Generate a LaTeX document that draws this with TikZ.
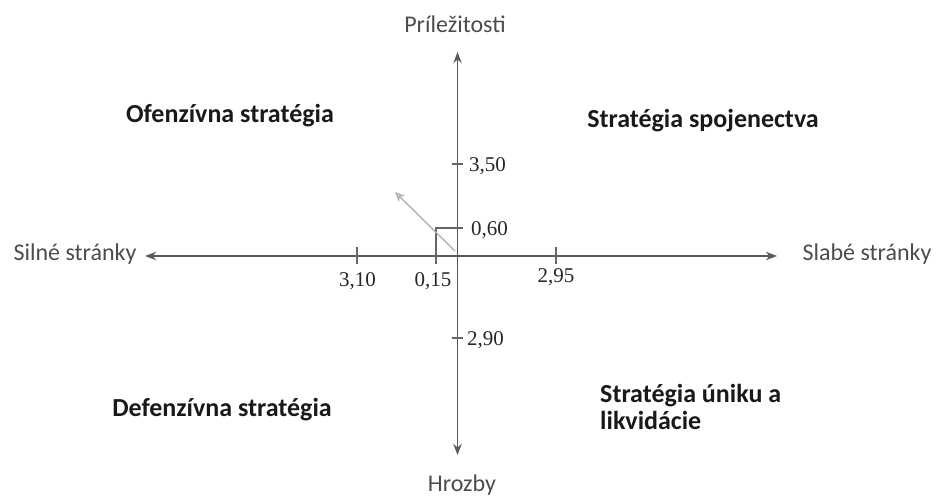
\documentclass[tikz,border=0pt]{standalone}
\usepackage{fontspec}
\setmainfont{Carlito}
\newfontfamily\numfont{Liberation Serif}
\usetikzlibrary{arrows.meta,positioning}

\begin{document}
\begin{tikzpicture}
        [x=1pt, y=1pt,
         axis/.style={Stealth-Stealth, line width=1.8pt, draw=black!65, >=Stealth},
         tick/.style={line width=1.6pt, draw=black!60},
         num/.style={font=\numfont\fontsize{21}{21}\selectfont, text=black!85, inner sep=0pt},
         endlabel/.style={font=\fontsize{24}{24}\selectfont, text=black!70, inner sep=0pt},
         quadrant/.style={font=\bfseries\fontsize{26}{27}\selectfont, text=black!90, align=left, inner sep=0pt}]

        \useasboundingbox (0,0) rectangle (936,497);

        % axes
        \coordinate (o) at (457.5,241);
        \coordinate (top) at (457.5,445);
        \coordinate (bottom) at (457.5,42);
        \coordinate (left end) at (145,241);
        \coordinate (right end) at (777,241);
        \draw[axis] (left end) -- (right end);
        \draw[axis] (bottom) -- (top);

        % ticks
        \coordinate (t350a) at (452,333);  \coordinate (t350b) at (463,333);
        \coordinate (t290a) at (452,159);  \coordinate (t290b) at (463,159);
        \coordinate (t310a) at (357,250);  \coordinate (t310b) at (357,233);
        \coordinate (t295a) at (556,250);  \coordinate (t295b) at (556,233);
        \coordinate (t060) at (463,269);
        \coordinate (corner) at (436,269);
        \coordinate (t015) at (436,233);
        \draw[tick] (t350a) -- (t350b);
        \draw[tick] (t290a) -- (t290b);
        \draw[tick] (t310a) -- (t310b);
        \draw[tick] (t295a) -- (t295b);
        \draw[tick] (t060) -- (corner) -- (t015);

        % result vector
        \coordinate (vstart) at (455,246);
        \coordinate (vend) at (395,305);
        \draw[-{Stealth[open,length=10pt,width=9pt]}, line width=1.4pt, draw=black!30] (vstart) -- (vend);

        % values
        \node[num, anchor=base west] (v350) at (469,325) {3,50};
        \node[num, anchor=base west] (v060) at (471,261) {0,60};
        \node[num, anchor=base west] (v290) at (467,151) {2,90};
        \node[num, anchor=base] (v310) at (357.5,210) {3,10};
        \node[num, anchor=base] (v015) at (433,210) {0,15};
        \node[num, anchor=base] (v295) at (556,214) {2,95};

        % axis names
        \node[endlabel, anchor=base] (opp) at (455,464) {Príležitosti};
        \node[endlabel, anchor=base] (thr) at (462,5) {Hrozby};
        \node[endlabel, anchor=base] (str) at (75,236) {Silné stránky};
        \node[endlabel, anchor=base] (wea) at (867,236) {Slabé stránky};

        % strategies
        \node[quadrant, anchor=base] (off) at (230,374) {Ofenzívna stratégia};
        \node[quadrant, anchor=base] (all) at (703,369) {Stratégia spojenectva};
        \node[quadrant, anchor=base] (def) at (222,80) {Defenzívna stratégia};
        \node[quadrant, anchor=base west] (liq) at (600,67) {Stratégia úniku a\\likvidácie};
\end{tikzpicture}
\end{document}
